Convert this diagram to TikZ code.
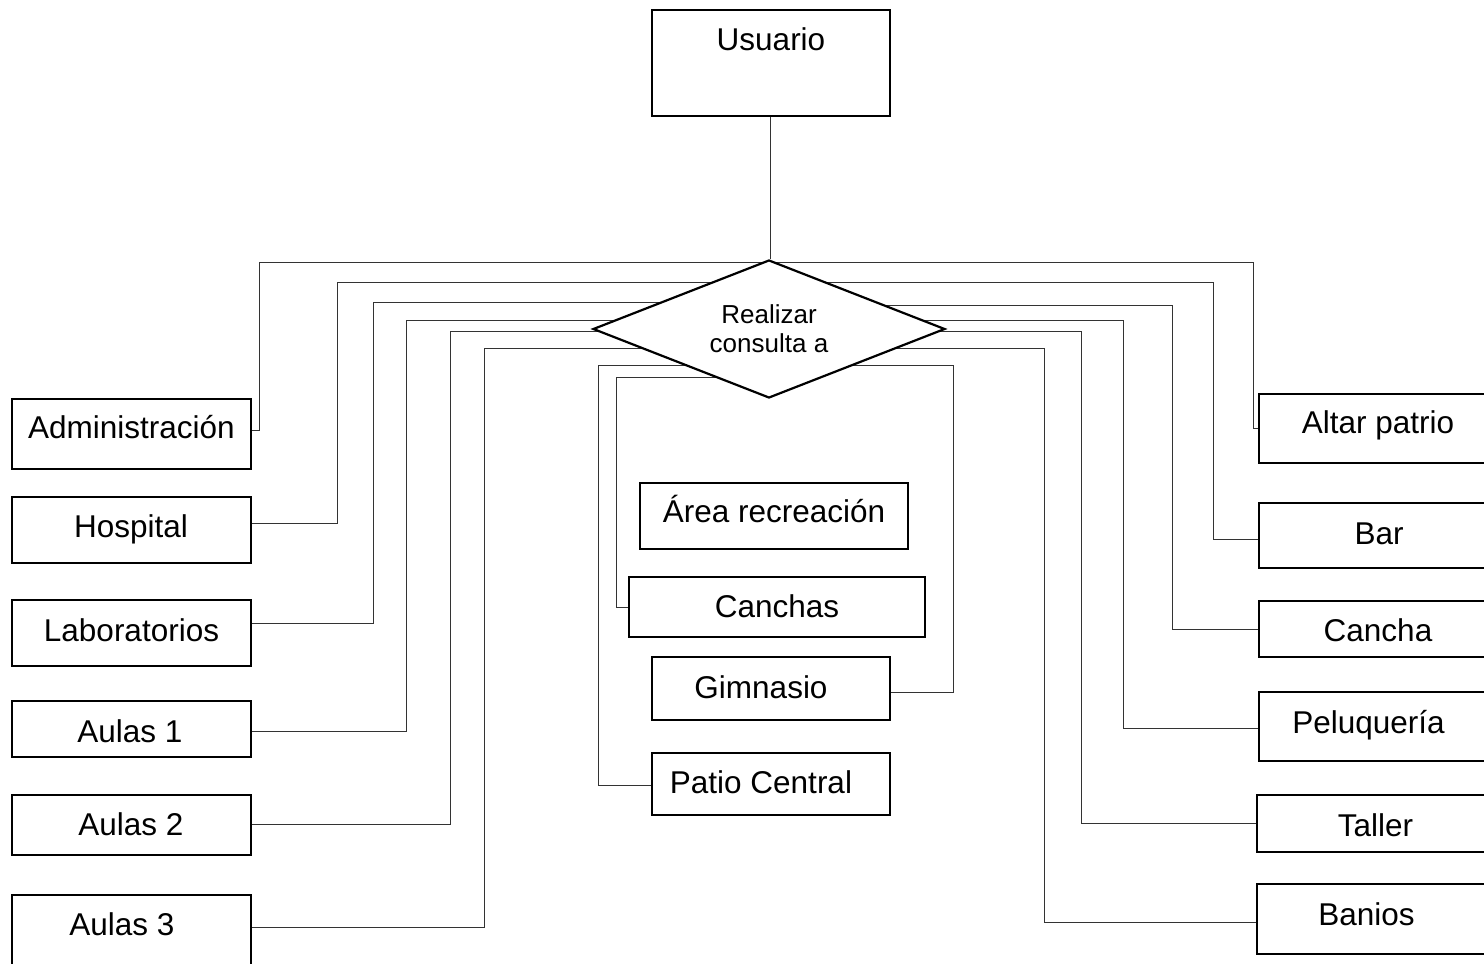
\documentclass[tikz,border=0pt]{standalone}
\usepackage{fontspec}
\setmainfont{Liberation Sans}
\usetikzlibrary{shapes.geometric,backgrounds}
\newcommand\bx[5]{\node[box,minimum width={#4pt-#2pt},minimum height={#5pt-#3pt}] (#1) at ({(#2+#4)/2},{(#3+#5)/2}) {};}
\newcommand\tx[4]{\node[lbl] (#1) at (#2,#3) {#4};}
\begin{document}
\begin{tikzpicture}[x=1pt,y=-1pt,
  box/.style={draw,line width=1.8pt,inner sep=0pt,rectangle},
  lbl/.style={anchor=base,inner sep=0pt,font=\fontsize{31.5}{36}\selectfont},
  conn/.style={draw=black!80,line width=1pt}]
\useasboundingbox (0,0) rectangle (1484,964);
\begin{scope}[on background layer]
\fill[white] (0,0) rectangle (1484,964);
\end{scope}
% top
\bx{usu}{652}{10}{890}{116}
\tx{usut}{771}{50}{Usuario}
\node[diamond,draw,line width=2.2pt,fill=white,minimum width=352pt,minimum height=138pt,
  shape aspect=2.55,inner sep=0pt,align=center,
  font=\fontsize{26}{31}\selectfont] (dia) at (769,329) {\raisebox{-2pt}{Realizar}\\consulta a};
% left boxes
\bx{adm}{12}{399}{251}{469}  \tx{admt}{131.5}{438}{Administración}
\bx{hos}{12}{497}{251}{563}  \tx{host}{131}{537}{Hospital}
\bx{lab}{12}{600}{251}{666}  \tx{labt}{131.5}{641}{Laboratorios}
\bx{au1}{12}{701}{251}{757}  \tx{au1t}{130}{742}{Aulas 1}
\bx{au2}{12}{795}{251}{855}  \tx{au2t}{131}{835}{Aulas 2}
\bx{au3}{12}{895}{251}{980}  \tx{au3t}{122}{935}{Aulas 3}
% right boxes
\bx{alt}{1259}{394}{1500}{463} \tx{altt}{1378}{433}{Altar patrio}
\bx{bar}{1259}{503}{1500}{568} \tx{bart}{1379}{544}{Bar}
\bx{can}{1259}{601}{1500}{657} \tx{cant}{1378}{641}{Cancha}
\bx{pel}{1259}{692}{1500}{761} \tx{pelt}{1368.5}{733}{Peluquería}
\bx{tal}{1257}{795}{1500}{852} \tx{talt}{1375.5}{836}{Taller}
\bx{ban}{1257}{884}{1500}{954} \tx{bant}{1366.5}{925}{Banios}
% centre boxes
\bx{are}{640}{483}{908}{549} \tx{aret}{774}{522}{Área recreación}
\bx{cas}{629}{577}{925}{637} \tx{cast}{777}{617}{Canchas}
\bx{gim}{652}{657}{890}{720} \tx{gimt}{761}{698}{Gimnasio}
\bx{pat}{652}{753}{890}{815} \tx{patt}{761}{793}{Patio Central}
% connectors
\begin{scope}[on background layer]
\path[conn] ([xshift=-1pt]usu.south) -- ([xshift=-1pt]usu.south |- dia.north);
\path[conn] ([yshift=4pt]adm.east) -| (259,262) -| (dia.center);
\path[conn] ([yshift=7pt]hos.east) -| (337,282) -| (dia.center);
\path[conn] ([yshift=10pt]lab.east) -| (373,302) -| (dia.center);
\path[conn] ([yshift=-2pt]au1.east) -| (406,320) -| (dia.center);
\path[conn] ([yshift=1pt]au2.east) -| (450,331) -| (dia.center);
\path[conn] ([yshift=10.5pt]au3.east) -| (484,348) -| (dia.center);
\path[conn] (alt.west) -| (1253,262) -| (dia.center);
\path[conn] ([yshift=-3.5pt]bar.west) -| (1213,282) -| (dia.center);
\path[conn] (can.west) -| (1172,305) -| (dia.center);
\path[conn] ([yshift=-1.5pt]pel.west) -| (1123,320) -| (dia.center);
\path[conn] (tal.west) -| (1081,331) -| (dia.center);
\path[conn] ([yshift=-3pt]ban.west) -| (1044,348) -| (dia.center);
\path[conn] ([yshift=-1pt]pat.west) -| (598,365) -- (953,365) |- ([yshift=-3.5pt]gim.east);
\path[conn] (cas.west) -| (616,377) -| (dia.center);
\end{scope}
\end{tikzpicture}
\end{document}
